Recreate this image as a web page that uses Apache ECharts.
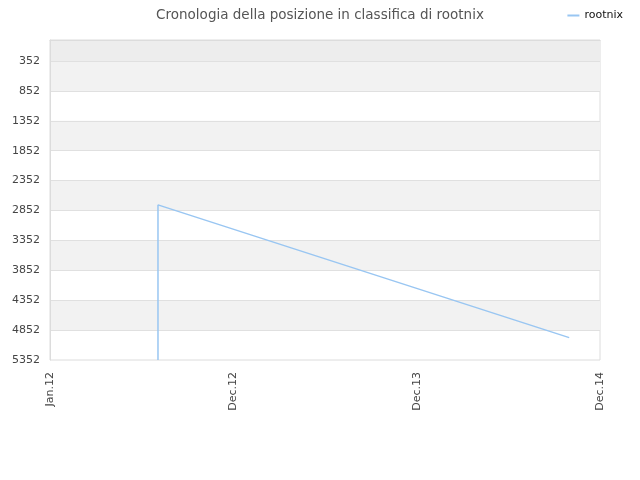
<!DOCTYPE html>
<html><head><meta charset="utf-8">
<script src="https://cdn.jsdelivr.net/npm/echarts@6/dist/echarts.min.js"></script>
<style>html,body{margin:0;padding:0;background:#fff}#c{width:640px;height:480px}</style>
</head><body><div id="c"></div>
<script>
var xLabels = ["Jan.12", "Dec.12", "Dec.13", "Dec.14"];
var yTicks = [352, 852, 1352, 1852, 2352, 2852, 3352, 3852, 4352, 4852, 5352];
var seriesName = "rootnix";
var xValues = [0.589, 0.589, 2.832];
var rankValues = [5352, 2758, 4978];

var data = xValues.map(function (x, i) { return [x, rankValues[i]]; });
var bands = [[{yAxis: 0, itemStyle: {color: '#ededed', opacity: 1}}, {yAxis: yTicks[0]}]];
for (var i = 0; i < yTicks.length - 1; i += 2) {
  bands.push([{yAxis: yTicks[i], itemStyle: {color: '#f2f2f2', opacity: 1}}, {yAxis: yTicks[i + 1]}]);
}
var lines = yTicks.slice(0, -1).map(function (v) { return {yAxis: v}; });

var chart = echarts.init(document.getElementById('c'));
chart.setOption({
  animation: false,
  title: {text: 'Cronologia della posizione in classifica di rootnix', left: 'center', top: 3,
    textStyle: {fontFamily: 'DejaVu Sans', fontSize: 13.5, fontWeight: 'normal', color: '#555'}},
  legend: {right: 12, top: 5, itemWidth: 12, itemHeight: 2, icon: 'rect',
    textStyle: {fontFamily: 'DejaVu Sans', fontSize: 11, color: '#111'},
    data: [seriesName]},
  grid: {left: 50, right: 40, top: 40, bottom: 120, show: true, borderColor: '#dcdcdc', borderWidth: 1, backgroundColor: '#fff'},
  xAxis: {type: 'value', min: 0, max: 3, interval: 1, z: 10,
    axisLine: {show: true, lineStyle: {color: '#dcdcdc'}},
    axisTick: {show: false}, splitLine: {show: false},
    axisLabel: {rotate: 90, fontFamily: 'DejaVu Sans', fontSize: 11, color: '#444', margin: 12,
      formatter: function (v) { return xLabels[Math.round(v)] || ''; }}},
  yAxis: {type: 'value', inverse: true, min: 0, max: 5352, z: 10,
    axisLine: {show: true, lineStyle: {color: '#dcdcdc'}},
    axisTick: {show: false, customValues: yTicks},
    splitLine: {show: false},
    axisLabel: {customValues: yTicks, fontFamily: 'DejaVu Sans', fontSize: 11, color: '#444', margin: 10,
      formatter: function (v) { return String(v); }}},
  series: [{
    name: 'bg', type: 'line', data: [], z: 1, silent: true,
    markArea: {silent: true, data: bands},
    markLine: {silent: true, symbol: 'none', label: {show: false},
      lineStyle: {color: '#e0e0e0', type: 'solid', width: 1}, data: lines}
  }, {
    name: seriesName, type: 'line', data: data, showSymbol: false, symbol: 'none', z: 5,
    lineStyle: {color: '#99c6f2', width: 1.5}, itemStyle: {color: '#99c6f2'}
  }]
});
</script></body></html>
